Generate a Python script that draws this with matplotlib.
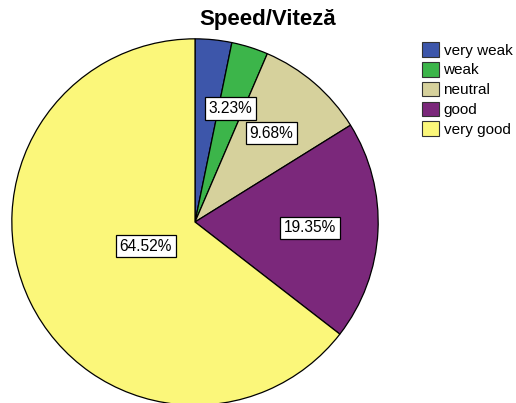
import numpy as np
import matplotlib.pyplot as plt
from matplotlib.patches import Patch

categories = ['very weak', 'weak', 'neutral', 'good', 'very good']
percents = [3.23, 3.23, 9.68, 19.35, 64.52]
colors = ['#3d56aa', '#3cb54a', '#d6d19c', '#7b287b', '#fbf77a']

# radial position of each percent label (fraction of radius); None = not shown
label_r = [None, 0.65, 0.64, 0.63, 0.30]

plt.rcParams['font.family'] = ['Liberation Sans', 'DejaVu Sans']

fig = plt.figure(figsize=(5.16, 4.03), dpi=100)
ax = fig.add_axes([10 / 516, (403 - 407) / 403, 370 / 516, 370 / 403])

wedges, _ = ax.pie(percents, colors=colors, startangle=90, counterclock=False,
                   wedgeprops=dict(edgecolor='black', linewidth=0.9))
ax.set_xlim(-1.01, 1.01)
ax.set_ylim(-1.01, 1.01)
ax.set_aspect('equal')
ax.axis('off')

for w, pct, r in zip(wedges, percents, label_r):
    if r is None:
        continue
    ang = np.deg2rad((w.theta1 + w.theta2) / 2)
    ax.text(r * np.cos(ang), r * np.sin(ang), f'{pct:.2f}%', ha='center', va='center',
            fontsize=11.2,
            bbox=dict(boxstyle='square,pad=0.24', facecolor='white', edgecolor='black', linewidth=0.9))

fig.text(268 / 516, 1 - 19 / 403, 'Speed/Viteză', ha='center', va='center',
         fontsize=16, fontweight='bold')

handles = [Patch(facecolor=c, edgecolor='#333333', linewidth=0.8) for c in colors]
fig.legend(handles, categories, loc='upper left', bbox_to_anchor=(416 / 516, 1 - 36 / 403),
           frameon=False, fontsize=11, handlelength=1.1, handleheight=1.1,
           handletextpad=0.3, labelspacing=0.28, borderaxespad=0)

fig.savefig('out.png', dpi=100)
